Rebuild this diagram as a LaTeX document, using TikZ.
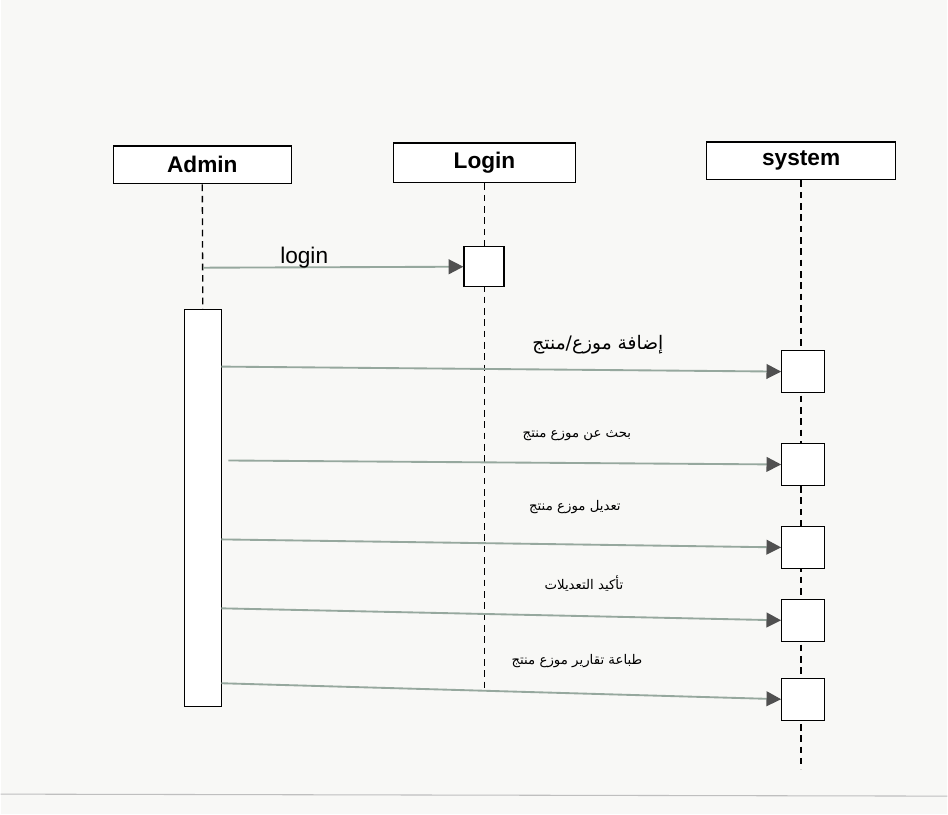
\documentclass[tikz,border=0pt]{standalone}
\usepackage{fontspec}
\setmainfont{Liberation Sans}
\newfontfamily\arabicfont[Script=Arabic]{DejaVu Sans}
\TeXXeTstate=1
\usetikzlibrary{arrows.meta}
\definecolor{msgline}{RGB}{150,168,158}
\definecolor{headgray}{RGB}{80,80,80}
\definecolor{bgpaper}{RGB}{248,248,246}
\begin{document}
\begin{tikzpicture}[x=0.75pt,y=-0.75pt,
  actor/.style={draw, line width=1pt, fill=white, inner sep=0pt, font=\bfseries\fontsize{17}{19}\selectfont},
  actbox/.style={draw, line width=1pt, fill=white, inner sep=0pt},
  lifeline/.style={line width=1pt, dash pattern=on 5pt off 3.5pt},
  msg/.style={draw=msgline, line width=1.4pt, -{Triangle[length=11pt,width=11pt,fill=headgray,color=headgray]}},
  arlabel/.style={font=\arabicfont\fontsize{10}{12}\selectfont, inner sep=1pt},
  txt/.style={font=\fontsize{17}{19}\selectfont, inner sep=1pt}]
\fill[bgpaper] (0,0) rectangle (948,815);
\draw[gray!50, line width=0.8pt] (0,795) -- (948,797);
% actors
\node[actor, minimum width=133.5pt, minimum height=28.5pt] (admin) at (202,165) {Admin};
\node[actor, minimum width=137pt, minimum height=30pt] (login) at (484.5,163) {Login};
\node[actor, minimum width=142pt, minimum height=28.5pt] (system) at (801.5,161) {system};
% lifeline end points
\coordinate (adminTop) at (202.5,310);
\coordinate (loginEnd) at (484,690);
\coordinate (systemEnd) at (804,770);
\draw[lifeline] (admin.south) -- (adminTop);
\draw[lifeline] (login.south) -- (login.south |- loginEnd);
\draw[lifeline] (system.south) -- (system.south |- systemEnd);
% activations
\node[actbox, minimum width=27.75pt, minimum height=297.75pt] (adminAct) at (202.5,508.5) {};
\node[actbox, minimum width=30pt, minimum height=30pt] (loginAct) at (484,267) {};
\node[actbox, minimum width=32pt, minimum height=31.5pt] (s1) at (803.5,372) {};
\node[actbox, minimum width=32pt, minimum height=31.5pt] (s2) at (803.5,465) {};
\node[actbox, minimum width=32pt, minimum height=31.5pt] (s3) at (803.5,548) {};
\node[actbox, minimum width=32pt, minimum height=31.5pt] (s4) at (803.5,621) {};
\node[actbox, minimum width=32pt, minimum height=31.5pt] (s5) at (803.5,700) {};
% message start points
\coordinate (m0) at (203,268);
\coordinate (m1) at (221,367);
\coordinate (m2) at (228,461);
\coordinate (m3) at (221,540);
\coordinate (m4) at (221,609);
\coordinate (m5) at (221,684);
% messages
\draw[msg] (m0) -- (loginAct.west);
\draw[msg] (m1) -- (s1.west);
\draw[msg] (m2) -- (s2.west);
\draw[msg] (m3) -- (s3.west);
\draw[msg] (m4) -- (s4.west);
\draw[msg] (m5) -- (s5.west);
% labels
\node[txt] (l0) at (304,258) {login};
\node[arlabel, font=\arabicfont\fontsize{14}{16}\selectfont] (l1) at (598,345) {\beginR إضافة موزع/منتج\endR};
\node[arlabel] (l2) at (577,436) {\beginR بحث عن موزع منتج\endR};
\node[arlabel] (l3) at (575,508) {\beginR تعديل موزع منتج\endR};
\node[arlabel] (l4) at (584,584) {\beginR تأكيد التعديلات\endR};
\node[arlabel] (l5) at (577,662) {\beginR طباعة تقارير موزع منتج\endR};
\end{tikzpicture}
\end{document}
